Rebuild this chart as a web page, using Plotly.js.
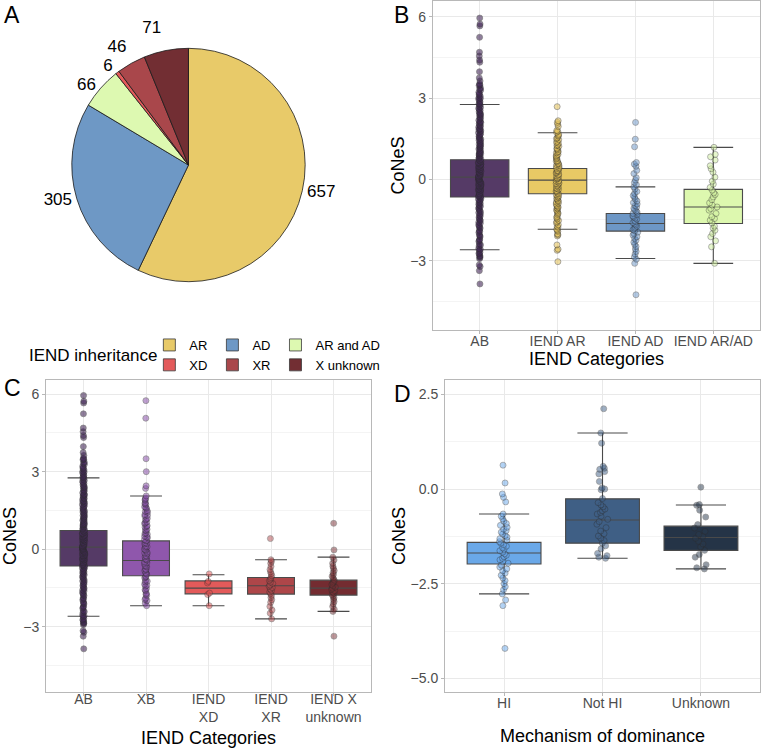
<!DOCTYPE html>
<html>
<head>
<meta charset="utf-8">
<script src="https://cdn.plot.ly/plotly-3.0.1.min.js"></script>
<style>html,body{margin:0;padding:0;background:#fff;}#chart{width:762px;height:748px;}
#chart path.textline{display:none !important;}</style>
</head>
<body>
<div id="chart"></div>
<script>
// ---------- Panel A : pie ----------
const pieLabels = ['AR', 'AD', 'AR and AD', 'XD', 'XR', 'X unknown'];
const pieValues = [657, 305, 66, 6, 46, 71];
const pieColors = ['#E8CA69', '#6E98C5', '#DDF9B1', '#E35A5B', '#A9474B', '#722E33'];
// legend layout: columns of the 2x3 key
const legendGroups = [[0, 3], [1, 4], [2, 5]];
const legendTitle = 'IEND inheritance';

// ---------- Panel B ----------
const catsB = ['AB', 'IEND AR', 'IEND AD', 'IEND AR/AD'];
const q1B = [-0.65, -0.53, -1.91, -1.63];
const medB = [0.08, -0.03, -1.63, -1.02];
const q3B = [0.72, 0.40, -1.26, -0.37];
const loB = [-2.60, -1.84, -2.92, -3.10];
const hiB = [2.76, 1.72, -0.28, 1.18];
const fillB = ['#553A66', '#E8C965', '#6D97C6', '#DDF8AF'];
const ptColB = ['#45295A', '#E3C055', '#6893C6', '#CFEF9C'];

const ptsAB = [5.95, 5.73, 5.66, 5.24, 4.69, 4.55, 4.40, 4.32, 3.97, 3.74, 3.63,
  3.52, 3.46, 3.37, 3.33, 3.21, 3.16, 3.07, 3.02, 2.96, 2.86, 2.81, 2.75, 2.66, 2.62, 2.54, 2.49, 2.41, 2.36,
  2.30, 2.23, 2.18, 2.11, 2.06, 1.98, 1.95, 1.87, 1.83, 1.76, 1.72, 1.65, 1.62, 1.54, 1.51, 1.44, 1.41, 1.33,
  1.30, 1.24, 1.18, 1.15, 1.09, 1.05, 0.98, 0.96, 0.89, 0.86, 0.80, 0.77, 0.71, 0.68, 0.62, 0.59, 0.53, 0.51,
  0.44, 0.42, 0.36, 0.33, 0.27, 0.25, 0.19, 0.16, 0.10, 0.08, 0.02, -0.01, -0.07, -0.09, -0.16, -0.18, -0.24,
  -0.27, -0.33, -0.36, -0.42, -0.45, -0.52, -0.54, -0.61, -0.64, -0.71, -0.74, -0.81, -0.85, -0.92, -0.96,
  -1.03, -1.07, -1.15, -1.19, -1.27, -1.32, -1.40, -1.45, -1.53, -1.58, -1.67, -1.72, -1.80, -1.88, -1.96,
  -2.04, -2.12, -2.21, -2.29, -2.38, -2.46, -2.55, -2.62, -2.69, -2.76, -2.82, -2.88, -2.93,
  -3.16, -3.22, -3.37, -3.86,
  3.48, 3.29, 3.12, 2.99, 2.91, 2.78, 2.70, 2.58, 2.45, 2.39, 2.27, 2.14, 2.09, 2.01, 1.92, 1.85, 1.79, 1.69,
  1.58, 1.48, 1.37, 1.27, 1.21, 1.12, 1.01, 0.93, 0.83, 0.74, 0.65, 0.56, 0.47, 0.39, 0.30, 0.22, 0.13, 0.05,
  -0.04, -0.12, -0.21, -0.30, -0.39, -0.48, -0.58, -0.67, -0.77, -0.88, -0.99, -1.11, -1.23, -1.36, -1.49,
  -1.62, -1.76, -1.92, -2.08, -2.25, -2.42, -2.58, -2.73, -2.85, 0.94, 0.61, 0.35, 0.12, -0.14, -0.38, -0.63,
  0.00, 0.48, -0.25];
const ptsIendAR = [2.68, 2.16, 2.10, 2.03, 1.95, 1.80, 1.73, 1.66, 1.59, 1.53, 1.46, 1.40, 1.33, 1.27, 1.22, 1.15,
  1.09, 1.03, 0.98, 0.92, 0.86, 0.82, 0.75, 0.69, 0.65, 0.59, 0.54, 0.48, 0.44, 0.39, 0.33, 0.29, 0.23, 0.19,
  0.13, 0.09, 0.04, 0.00, -0.05, -0.09, -0.14, -0.18, -0.22, -0.28, -0.32, -0.37, -0.42, -0.46, -0.51, -0.57,
  -0.61, -0.67, -0.73, -0.78, -0.84, -0.91, -0.96, -1.03, -1.09, -1.17, -1.22, -1.30, -1.37, -1.46, -1.52,
  -1.61, -1.68, -1.77, -1.84, -1.92, -2.01, -2.09, -2.42, -2.58, -2.62, -3.04,
  1.77, 1.62, 1.50, 1.36, 1.24, 1.12, 1.00, 0.89, 0.78, 0.67, 0.57, 0.51, 0.41, 0.31, 0.26, 0.16, 0.06, 0.02,
  -0.07, -0.16, -0.25, -0.35, -0.44, -0.54, -0.64, -0.70, -0.81, -0.88, -0.99, -1.06, -1.13, -1.26, -1.41,
  -1.56, -1.73, -1.88, -2.05];
const ptsIendAD = [2.10, 1.48, 1.20, 0.62, 0.56, 0.48, 0.33, 0.21, 0.06, -0.03, -0.12, -0.20, -0.28, -0.36, -0.45,
  -0.52, -0.60, -0.66, -0.73, -0.80, -0.86, -0.91, -0.97, -1.02, -1.07, -1.12, -1.17, -1.21, -1.26, -1.30, -1.35,
  -1.39, -1.43, -1.47, -1.52, -1.56, -1.60, -1.64, -1.68, -1.73, -1.77, -1.81, -1.86, -1.90, -1.95, -2.00,
  -2.06, -2.12, -2.18, -2.25, -2.32, -2.40, -2.48, -2.57, -2.66, -2.76, -2.87, -2.95, -3.10, -4.26];
const ptsIendARAD = [1.18, 0.92, 0.83, 0.71, 0.50, 0.39, 0.26, 0.08, -0.07, -0.18, -0.30, -0.40, -0.50, -0.56,
  -0.65, -0.75, -0.87, -0.95, -1.02, -1.08, -1.14, -1.26, -1.38, -1.45, -1.51, -1.61, -1.73, -1.80, -1.88,
  -2.00, -2.12, -2.27, -2.49, -3.10];

// ---------- Panel C ----------
const catsC = ['AB', 'XB', 'IEND<br>XD', 'IEND<br>XR', 'IEND X<br>unknown'];
const q1C = [-0.65, -1.03, -1.73, -1.74, -1.78];
const medC = [0.08, -0.44, -1.51, -1.42, -1.51];
const q3C = [0.72, 0.32, -1.23, -1.10, -1.20];
const loC = [-2.60, -2.19, -2.19, -2.70, -2.41];
const hiC = [2.76, 2.06, -0.99, -0.41, -0.31];
const fillC = ['#553A66', '#8F57AC', '#E35A5A', '#AE4649', '#742C31'];
const ptColC = ['#45295A', '#8A52AA', '#DF5050', '#B04A4D', '#7A3035'];

const ptsXB = [5.75, 5.07, 3.50, 3.00, 2.45, 2.35, 2.06, 1.97, 1.89, 1.80, 1.73, 1.64, 1.58, 1.49, 1.43, 1.34,
  1.28, 1.19, 1.13, 1.05, 0.99, 0.91, 0.85, 0.77, 0.71, 0.63, 0.58, 0.50, 0.45, 0.37, 0.32, 0.25, 0.20, 0.12,
  0.07, 0.00, -0.05, -0.12, -0.18, -0.25, -0.30, -0.38, -0.43, -0.50, -0.56, -0.63, -0.69, -0.77, -0.83,
  -0.91, -0.97, -1.05, -1.11, -1.20, -1.27, -1.36, -1.43, -1.53, -1.61, -1.71, -1.79, -1.90, -1.99, -2.09, -2.19,
  1.93, 1.76, 1.61, 1.46, 1.31, 1.16, 1.02, 0.88, 0.74, 0.60, 0.47, 0.34, 0.22, 0.09, -0.02, -0.15, -0.28,
  -0.40, -0.53, -0.66, -0.80, -0.94, -1.08, -1.24, -1.40, -1.57, -1.75, -1.95];
const ptsXD = [-0.96, -1.25, -1.31, -1.70, -1.76, -2.19];
const ptsXR = [0.41, -0.41, -0.47, -0.55, -0.67, -0.79, -0.88, -0.95, -1.03, -1.10, -1.16, -1.22, -1.28, -1.33,
  -1.39, -1.44, -1.49, -1.55, -1.61, -1.66, -1.72, -1.79, -1.87, -1.96, -2.06, -2.22, -2.36, -2.48, -2.70];
const ptsXU = [1.00, -0.03, -0.31, -0.42, -0.55, -0.66, -0.74, -0.83, -0.91, -0.98, -1.05, -1.11, -1.17, -1.22,
  -1.27, -1.32, -1.37, -1.42, -1.47, -1.51, -1.56, -1.61, -1.66, -1.71, -1.76, -1.82, -1.88, -1.95, -2.03,
  -2.12, -2.22, -2.33, -2.41, -3.37];

// ---------- Panel D ----------
const catsD = ['HI', 'Not HI', 'Unknown'];
const q1D = [-1.98, -1.43, -1.62];
const medD = [-1.69, -0.82, -1.28];
const q3D = [-1.41, -0.26, -0.98];
const loD = [-2.77, -1.83, -2.11];
const hiD = [-0.66, 1.48, -0.42];
const fillD = ['#6AA8E8', '#3F5F85', '#253447'];
const ptColD = ['#68A6EA', '#3F5F86', '#2A3A4E'];

const ptsHI = [0.63, 0.16, -0.13, -0.22, -0.34, -0.66, -0.72, -0.79, -0.85, -0.91, -0.96, -1.01, -1.06, -1.10,
  -1.14, -1.19, -1.23, -1.27, -1.31, -1.35, -1.39, -1.43, -1.47, -1.51, -1.55, -1.59, -1.63, -1.67, -1.71,
  -1.75, -1.79, -1.83, -1.87, -1.91, -1.96, -2.01, -2.06, -2.11, -2.16, -2.22, -2.28, -2.35, -2.42, -2.50,
  -2.58, -2.66, -2.77, -2.93, -3.08, -4.21];
const ptsNotHI = [2.12, 1.48, 1.21, 0.60, 0.55, 0.52, 0.46, 0.40, 0.20, 0.03, 0.00, -0.02, -0.25, -0.36, -0.42,
  -0.47, -0.53, -0.57, -0.62, -0.66, -0.72, -0.80, -0.86, -0.93, -1.02, -1.11, -1.18, -1.24, -1.30, -1.36,
  -1.43, -1.50, -1.58, -1.70, -1.76, -1.80, -1.83];
const ptsUnknown = [0.05, -0.41, -0.43, -0.56, -0.74, -0.94, -1.03, -1.12, -1.20, -1.25, -1.30, -1.38, -1.45,
  -1.53, -1.62, -1.73, -1.80, -2.00, -2.08, -2.11];

// ---------- build ----------
const FONT = 'Liberation Sans, Arial, Helvetica, sans-serif';
const traces = [];

traces.push({
  type: 'pie', labels: pieLabels, values: pieValues, sort: false, direction: 'clockwise', rotation: 0,
  marker: {colors: pieColors, line: {color: '#1a1a1a', width: 0.8}},
  textinfo: 'value', textposition: 'outside', outsidetextfont: {size: 17, color: '#000'},
  domain: {x: [0.0942, 0.4005], y: [0.6234, 0.9354]}, showlegend: false, hoverinfo: 'label+value'
});

function addPanel(cats, q1, med, q3, lo, hi, fills, ptCols, pts, xa, ya, jit, opac) {
  cats.forEach(function (c, i) {
    traces.push({
      type: 'box', x: [c], q1: [q1[i]], median: [med[i]], q3: [q3[i]], lowerfence: [lo[i]], upperfence: [hi[i]],
      fillcolor: fills[i], line: {color: '#4a4a4a', width: 1.1}, whiskerwidth: 0.68, width: 0.75,
      boxpoints: false, xaxis: xa, yaxis: ya, showlegend: false, hoverinfo: 'skip'
    });
  });
  cats.forEach(function (c, i) {
    traces.push({
      type: 'box', x: pts[i].map(function () { return c; }), y: pts[i], boxpoints: 'all', jitter: jit[i], pointpos: 0,
      width: 0.75, fillcolor: 'rgba(0,0,0,0)', line: {width: 0, color: 'rgba(0,0,0,0)'},
      marker: {color: ptCols[i], size: 6, opacity: opac[i], line: {color: '#2b2b2b', width: 0.7}},
      hoveron: 'points', xaxis: xa, yaxis: ya, showlegend: false
    });
  });
}

addPanel(catsB, q1B, medB, q3B, loB, hiB, fillB, ptColB, [ptsAB, ptsIendAR, ptsIendAD, ptsIendARAD], 'x', 'y',
  [0.045, 0.055, 0.1, 0.15], [0.6, 0.55, 0.5, 0.5]);
addPanel(catsC, q1C, medC, q3C, loC, hiC, fillC, ptColC, [ptsAB, ptsXB, ptsXD, ptsXR, ptsXU], 'x2', 'y2',
  [0.052, 0.07, 0.055, 0.085, 0.085], [0.6, 0.55, 0.5, 0.5, 0.5]);
addPanel(catsD, q1D, medD, q3D, loD, hiD, fillD, ptColD, [ptsHI, ptsNotHI, ptsUnknown], 'x3', 'y3',
  [0.135, 0.17, 0.2], [0.5, 0.5, 0.5]);

// legend keys (IEND inheritance)
legendGroups.forEach(function (grp, g) {
  grp.forEach(function (k) {
    traces.push({
      type: 'bar', x: [null], y: [null], name: pieLabels[k], legendgroup: 'g' + g,
      marker: {color: pieColors[k], line: {color: '#3a3a3a', width: 0.8}},
      xaxis: 'x', yaxis: 'y', showlegend: true, hoverinfo: 'skip'
    });
  });
});

function ax(extra) {
  return Object.assign({
    showline: true, mirror: true, linecolor: '#b8b8b8', linewidth: 1,
    ticks: 'outside', ticklen: 3, tickcolor: '#b8b8b8', tickwidth: 1,
    showgrid: true, gridcolor: '#e9e9e9', gridwidth: 1, zeroline: false,
    tickfont: {size: 14, color: '#4d4d4d', family: FONT}, automargin: false, fixedrange: true
  }, extra);
}
const minorGrid = function (d) { return {tick0: 0, dtick: d, showgrid: true, gridcolor: '#f4f4f4', gridwidth: 0.7}; };
const titleFont = {size: 18, color: '#000', family: FONT};

const layout = {
  width: 762, height: 748, margin: {l: 0, r: 0, t: 0, b: 0},
  paper_bgcolor: '#fff', plot_bgcolor: '#fff',
  font: {family: FONT, color: '#000'},
  boxmode: 'overlay',
  xaxis: ax({domain: [0.5682, 0.9974], anchor: 'y', type: 'category', categoryorder: 'array', categoryarray: catsB,
    range: [-0.6, 3.6], ticklabelstandoff: -5, title: {text: 'IEND Categories', font: titleFont, standoff: 0}}),
  yaxis: ax({domain: [0.5588, 0.9987], anchor: 'x', range: [-5.56, 6.58], tick0: 0, dtick: 3, minor: minorGrid(1.5),
    title: {text: 'CoNeS', font: titleFont, standoff: 0}}),
  xaxis2: ax({domain: [0.0604, 0.4869], anchor: 'y2', type: 'category', categoryorder: 'array', categoryarray: catsC,
    range: [-0.6, 4.6], ticklabelstandoff: -9, title: {text: 'IEND Categories', font: titleFont, standoff: 7}}),
  yaxis2: ax({domain: [0.0749, 0.4920], anchor: 'x2', range: [-5.53, 6.55], tick0: 0, dtick: 3, minor: minorGrid(1.5),
    title: {text: 'CoNeS', font: titleFont, standoff: 3}}),
  xaxis3: ax({domain: [0.5840, 0.9974], anchor: 'y3', type: 'category', categoryorder: 'array', categoryarray: catsD,
    range: [-0.6, 2.6], ticklabelstandoff: -5, title: {text: 'Mechanism of dominance', font: titleFont, standoff: 19}}),
  yaxis3: ax({domain: [0.0749, 0.4920], anchor: 'x3', range: [-5.36, 2.88], tick0: 0, dtick: 2.5, tickformat: '.1f',
    minor: minorGrid(1.25), title: {text: 'CoNeS', font: titleFont, standoff: 0}}),
  showlegend: true,
  legend: {
    orientation: 'h', traceorder: 'grouped', x: 0.196, xanchor: 'left', y: 1 - 330 / 748, yanchor: 'top',
    font: {size: 13, color: '#000', family: FONT}, itemwidth: 30, tracegroupgap: 0,
    bgcolor: 'rgba(0,0,0,0)', itemclick: false, itemdoubleclick: false
  },
  annotations: [
    {text: legendTitle, x: 27 / 762, y: 1 - 355 / 748, xref: 'paper', yref: 'paper', xanchor: 'left', yanchor: 'middle', showarrow: false, font: {size: 17, color: '#000'}},
    {text: 'A', x: 0.002, y: 1.0, xref: 'paper', yref: 'paper', xanchor: 'left', yanchor: 'top', showarrow: false, font: {size: 23, color: '#000'}},
    {text: 'B', x: 0.515, y: 1.0, xref: 'paper', yref: 'paper', xanchor: 'left', yanchor: 'top', showarrow: false, font: {size: 23, color: '#000'}},
    {text: 'C', x: 0.002, y: 1 - 373 / 748, xref: 'paper', yref: 'paper', xanchor: 'left', yanchor: 'top', showarrow: false, font: {size: 23, color: '#000'}},
    {text: 'D', x: 0.515, y: 1 - 379 / 748, xref: 'paper', yref: 'paper', xanchor: 'left', yanchor: 'top', showarrow: false, font: {size: 23, color: '#000'}}
  ]
};

Plotly.newPlot('chart', traces, layout, {displayModeBar: false, staticPlot: false});
</script>
</body>
</html>
